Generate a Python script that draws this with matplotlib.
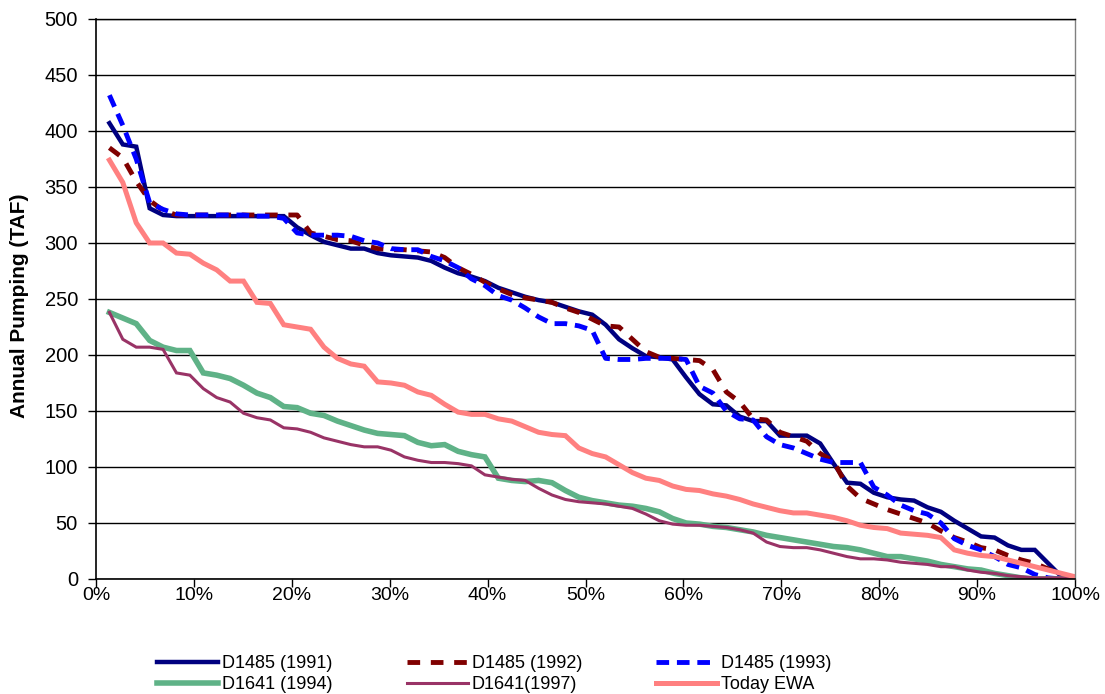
import matplotlib
matplotlib.use("Agg")
import matplotlib.pyplot as plt
from matplotlib.ticker import FixedLocator, FuncFormatter
import numpy as np

plt.rcParams['font.family'] = ['Liberation Sans', 'DejaVu Sans']

# exceedance position (percent) for each ranked year
n_pts = 73
exceed = [100.0 * k / n_pts for k in range(1, n_pts + 1)]

d1485_1991 = [407, 388, 386, 331, 325, 324, 324, 324, 324, 324, 324, 324, 324, 324, 314,
              307, 301, 298, 295, 295, 291, 289, 288, 287, 284, 278, 273, 270, 266, 260,
              256, 252, 249, 247, 243, 239, 236, 227, 214, 206, 199, 198, 196, 180, 165,
              156, 155, 145, 141, 141, 128, 128, 128, 121, 103, 86, 85, 77, 73, 71,
              70, 64, 60, 52, 45, 38, 37, 30, 26, 26, 14, 2, 0]

d1485_1992 = [385, 376, 355, 338, 329, 325, 325, 325, 325, 325, 325, 325, 325, 325, 325,
              309, 306, 303, 302, 298, 295, 294, 294, 293, 292, 287, 278, 272, 265, 259,
              254, 251, 249, 247, 242, 238, 232, 226, 225, 214, 203, 198, 197, 196, 195,
              187, 167, 158, 143, 142, 131, 127, 123, 112, 105, 83, 72, 67, 62, 58,
              54, 50, 43, 37, 33, 28, 26, 21, 17, 14, 9, 4, 0]

d1485_1993 = [432, 405, 375, 336, 330, 326, 325, 325, 325, 325, 325, 324, 324, 322, 309,
              307, 307, 307, 306, 302, 300, 295, 294, 294, 288, 284, 278, 268, 262, 253,
              249, 242, 234, 228, 228, 226, 222, 197, 196, 196, 197, 197, 197, 196, 172,
              166, 150, 143, 142, 127, 120, 117, 112, 107, 104, 104, 104, 82, 75, 66,
              61, 58, 50, 36, 30, 26, 20, 13, 10, 4, 1, 0, 0]

d1641_1994 = [238, 233, 228, 213, 207, 204, 204, 184, 182, 179, 173, 166, 162, 154, 153,
              148, 146, 141, 137, 133, 130, 129, 128, 122, 119, 120, 114, 111, 109, 90,
              88, 87, 88, 86, 79, 73, 70, 68, 66, 65, 63, 60, 54, 50, 49,
              47, 46, 44, 42, 39, 37, 35, 33, 31, 29, 28, 26, 23, 20, 20,
              18, 16, 13, 11, 9, 8, 5, 3, 1, 0, 0, 0, 0]

d1641_1997 = [238, 214, 207, 207, 205, 184, 182, 170, 162, 158, 148, 144, 142, 135, 134,
              131, 126, 123, 120, 118, 118, 115, 109, 106, 104, 104, 103, 101, 93, 91,
              89, 88, 81, 75, 71, 69, 68, 67, 65, 63, 58, 52, 49, 48, 48,
              47, 46, 44, 41, 33, 29, 28, 28, 26, 23, 20, 18, 18, 17, 15,
              14, 13, 11, 11, 8, 6, 5, 3, 2, 1, 1, 1, 0]

today_ewa = [374, 354, 318, 300, 300, 291, 290, 282, 276, 266, 266, 247, 246, 227, 225,
             223, 207, 197, 192, 190, 176, 175, 173, 167, 164, 156, 149, 147, 147, 143,
             141, 136, 131, 129, 128, 117, 112, 109, 102, 95, 90, 88, 83, 80, 79,
             76, 74, 71, 67, 64, 61, 59, 59, 57, 55, 52, 48, 46, 45, 41,
             40, 39, 37, 26, 23, 21, 20, 17, 14, 11, 8, 5, 2]

series_labels = ["D1485 (1991)", "D1485 (1992)", "D1485 (1993)",
                 "D1641 (1994)", "D1641(1997)", "Today EWA"]
y_ticks = [0, 50, 100, 150, 200, 250, 300, 350, 400, 450, 500]
x_ticks = [0, 10, 20, 30, 40, 50, 60, 70, 80, 90, 100]
y_label = "Annual Pumping (TAF)"

W, H = 1105, 694
fig = plt.figure(figsize=(W / 100, H / 100), dpi=100)
ax = fig.add_axes([96 / W, 1 - 579 / H, (1075 - 96) / W, (579 - 19) / H])

styles = [
    dict(color="#000080", lw=3.2, ls="-"),
    dict(color="#800000", lw=3.5, ls=(0, (2.6, 2.2))),
    dict(color="#0000FF", lw=3.5, ls=(0, (2.6, 1.6))),
    dict(color="#5FB287", lw=4.0, ls="-"),
    dict(color="#993366", lw=2.2, ls="-"),
    dict(color="#FF8080", lw=3.6, ls="-"),
]
data = [d1485_1991, d1485_1992, d1485_1993, d1641_1994, d1641_1997, today_ewa]
handles = []
for vals, lab, st in zip(data, series_labels, styles):
    h, = ax.plot(exceed, vals, label=lab, solid_joinstyle="miter",
                 dash_capstyle="butt", **st)
    handles.append(h)

ax.set_xlim(0, 100)
ax.set_ylim(0, 500)
ax.xaxis.set_major_locator(FixedLocator(x_ticks))
ax.yaxis.set_major_locator(FixedLocator(y_ticks))
ax.xaxis.set_major_formatter(FuncFormatter(lambda v, p: f"{int(round(v))}%"))
ax.yaxis.set_major_formatter(FuncFormatter(lambda v, p: f"{int(round(v))}"))
ax.tick_params(axis="y", direction="out", length=6, width=1, color="black",
               labelsize=14.5, pad=7)
ax.tick_params(axis="x", direction="out", length=5.5, width=1, color="black",
               labelsize=14, pad=0)
ax.grid(axis="y", color="black", lw=1)
ax.set_axisbelow(True)
for s in ["left", "bottom"]:
    ax.spines[s].set_color("black")
    ax.spines[s].set_linewidth(1.2)
ax.spines["top"].set_color("black")
ax.spines["top"].set_linewidth(1)
ax.spines["right"].set_color("#808080")
ax.spines["right"].set_linewidth(1)

fig.text(20 / W, 1 - 306 / H, y_label, rotation=90, ha="center", va="center",
         fontsize=15, fontweight="bold")

order = [0, 3, 1, 4, 2, 5]
fig.legend([handles[i] for i in order], [series_labels[i] for i in order],
           loc="upper left", bbox_to_anchor=(157 / W, 1 - 655 / H), ncol=3,
           frameon=False, fontsize=13, handlelength=3.4, handletextpad=0.2,
           columnspacing=4.1, labelspacing=0.22, borderpad=0, borderaxespad=0)

fig.savefig("out.png", dpi=100)
